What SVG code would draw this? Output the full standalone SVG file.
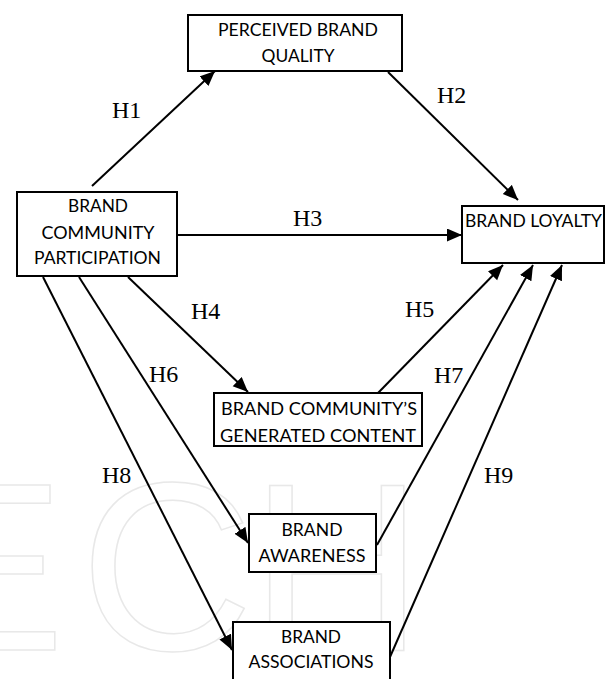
<svg xmlns="http://www.w3.org/2000/svg" width="606" height="679" viewBox="0 0 606 679">
<style>
.box{fill:#fff;stroke:#000;stroke-width:2}
.t{font-family:Lato,"Liberation Sans",sans-serif;font-size:17.5px;fill:#000;text-anchor:middle}
.tl{font-family:Lato,"Liberation Sans",sans-serif;font-size:17.5px;fill:#000}
.h{font-family:"Liberation Serif",serif;font-size:24px;fill:#000}
.c{stroke:#000;stroke-width:2;fill:none;marker-end:url(#arr)}
.wm{font-family:"Liberation Sans",sans-serif;font-size:240px;fill:none;stroke:#e8e8e8;stroke-width:1.5}
</style>
<defs>
<marker id="arr" markerUnits="userSpaceOnUse" markerWidth="16" markerHeight="14" refX="15" refY="6.5" orient="auto">
<path d="M0,0 L15,6.5 L0,13 z" fill="#000"/>
</marker>
</defs>
<rect width="606" height="679" fill="#fff"/>
<g id="watermark">
<text class="wm" x="-95" y="650">E</text>
<text class="wm" x="80" y="650">C</text>
<text class="wm" x="250" y="650">H</text>
</g>
<g id="connectors">
<line class="c" x1="92" y1="186" x2="215" y2="71"/>
<line class="c" x1="388" y1="72" x2="518" y2="200"/>
<line class="c" x1="177" y1="235" x2="462" y2="235"/>
<line class="c" x1="128" y1="277" x2="248" y2="392"/>
<line class="c" x1="378" y1="393" x2="503" y2="265"/>
<line class="c" x1="79" y1="277" x2="248" y2="543"/>
<line class="c" x1="377" y1="545" x2="533" y2="265"/>
<line class="c" x1="43" y1="277" x2="232" y2="650"/>
<line class="c" x1="390" y1="657" x2="562" y2="265"/>
</g>
<g id="labels">
<text class="h" x="112" y="118">H1</text>
<text class="h" x="437" y="103">H2</text>
<text class="h" x="293" y="226">H3</text>
<text class="h" x="191" y="319">H4</text>
<text class="h" x="405" y="317">H5</text>
<text class="h" x="149" y="382">H6</text>
<text class="h" x="434" y="383">H7</text>
<text class="h" x="102" y="483">H8</text>
<text class="h" x="484" y="483">H9</text>
</g>
<g id="perceived-brand-quality">
<rect class="box" x="188" y="15" width="214" height="56"/>
<text class="t" x="298" y="36" textLength="160" lengthAdjust="spacingAndGlyphs">PERCEIVED BRAND</text>
<text class="t" x="298" y="62" textLength="73" lengthAdjust="spacingAndGlyphs">QUALITY</text>
</g>
<g id="brand-community-participation">
<rect class="box" x="17" y="192" width="160" height="84"/>
<text class="t" x="98" y="212" textLength="60" lengthAdjust="spacingAndGlyphs">BRAND</text>
<text class="t" x="98" y="239" textLength="113" lengthAdjust="spacingAndGlyphs">COMMUNITY</text>
<text class="t" x="97.5" y="264" textLength="127" lengthAdjust="spacingAndGlyphs">PARTICIPATION</text>
</g>
<g id="brand-loyalty">
<rect class="box" x="462" y="206" width="142" height="57"/>
<text class="tl" x="465" y="227" textLength="137" lengthAdjust="spacingAndGlyphs">BRAND LOYALTY</text>
</g>
<g id="brand-community-generated-content">
<rect class="box" x="214" y="393" width="208" height="53"/>
<text class="t" x="319" y="415" textLength="196" lengthAdjust="spacingAndGlyphs">BRAND COMMUNITY’S</text>
<text class="t" x="318" y="442" textLength="196" lengthAdjust="spacingAndGlyphs">GENERATED CONTENT</text>
</g>
<g id="brand-awareness">
<rect class="box" x="249" y="514" width="127" height="58"/>
<text class="t" x="312" y="536" textLength="61" lengthAdjust="spacingAndGlyphs">BRAND</text>
<text class="t" x="312" y="562" textLength="107" lengthAdjust="spacingAndGlyphs">AWARENESS</text>
</g>
<g id="brand-associations">
<rect class="box" x="233" y="622" width="157" height="70"/>
<text class="t" x="311" y="643" textLength="60" lengthAdjust="spacingAndGlyphs">BRAND</text>
<text class="t" x="311" y="668" textLength="125" lengthAdjust="spacingAndGlyphs">ASSOCIATIONS</text>
</g>
</svg>
